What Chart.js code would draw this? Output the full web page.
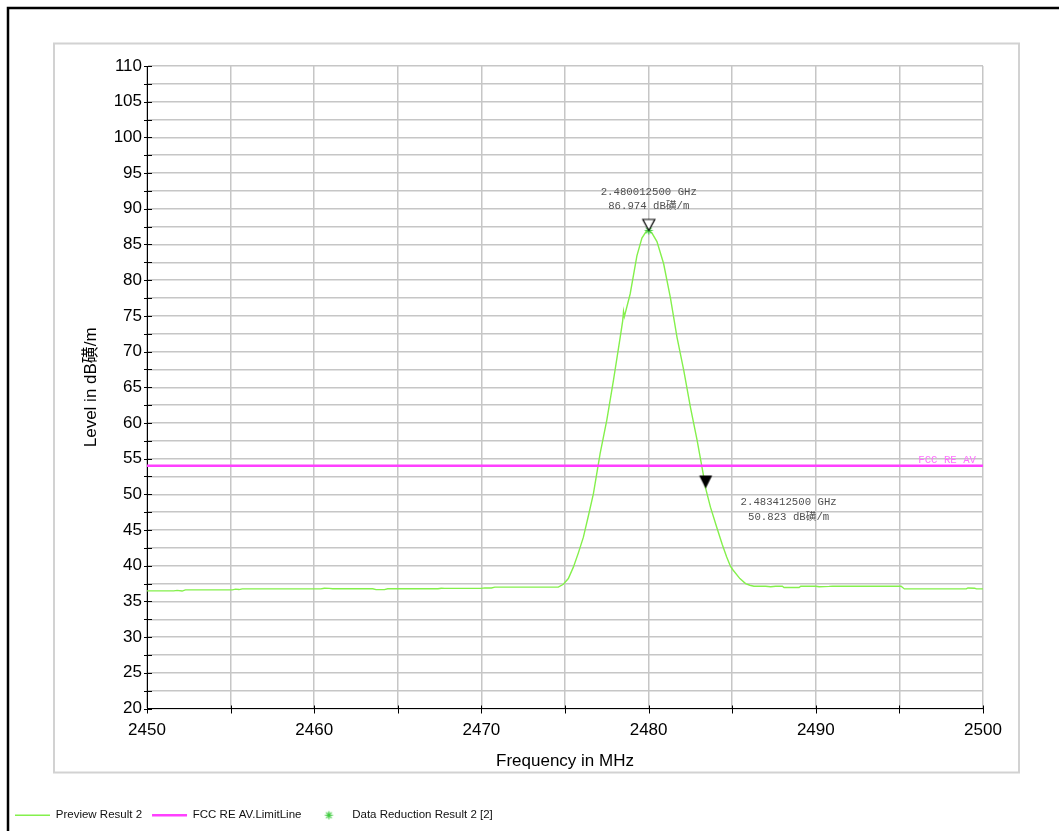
<!DOCTYPE html>
<html><head><meta charset="utf-8">
<script src="https://cdn.jsdelivr.net/npm/chart.js@4.4.1/dist/chart.umd.min.js"></script>
<style>html,body{margin:0;padding:0;background:#fff;} canvas{display:block;}</style>
</head><body>
<canvas id="c" width="1059" height="831" style="width:1059px;height:831px"></canvas>
<script>
// ---- data ----
const freqMHz = [2450.0,2451.6,2451.8,2452.1,2452.3,2455.1,2455.3,2455.5,2455.7,2460.4,2460.6,2460.9,2461.1,2463.5,2463.7,2464.2,2464.4,2467.4,2467.6,2467.8,2470.0,2470.2,2470.6,2470.8,2474.6,
  2474.9,2475.2,2475.5,2475.8,2476.1,2476.4,2476.7,2477.1,2477.5,2477.9,2478.3,2478.45,2478.5,2478.55,2478.9,2479.3,2479.6,2479.85,2480.0125,2480.2,2480.5,2480.9,2481.3,2481.7,2482.1,2482.5,2482.9,2483.3,2483.4125,2483.7,2484.07,2484.4,2484.67,2484.9,2485.06,2485.46,2485.8,2486.06,2486.3,
  2487.0,2487.3,2487.6,2488.0,2488.1,2489.0,2489.1,2490.0,2490.2,2490.8,2491.0,2495.1,2495.3,2499.0,2499.1,2499.5,2499.6,2500.0];
const levelDb = [36.47,36.47,36.55,36.45,36.61,36.61,36.72,36.66,36.75,36.75,36.85,36.83,36.77,36.77,36.65,36.65,36.77,36.77,36.85,36.82,36.82,36.90,36.88,37.0,37.0,
  37.4,38.2,39.8,41.8,44.0,47.0,50.1,55.7,60.4,66.0,72.0,74.3,75.6,74.9,78.1,83.4,85.9,86.8,86.974,86.6,85.4,82.3,77.6,72.0,67.4,62.2,57.6,52.4,50.823,48.2,45.43,43.0,41.23,39.9,39.37,38.2,37.5,37.27,37.13,
  37.13,37.05,37.13,37.13,36.95,36.95,37.13,37.13,37.05,37.1,37.13,37.13,36.75,36.75,36.88,36.85,36.75,36.75];
const limitFreqMHz = [2450, 2500];
const limitLevelDb = [54, 54];
const reductionFreqMHz = [2480.0125];
const reductionLevelDb = [86.974];
const markerFreqMHz = [2480.0125, 2483.4125];
const markerLevelDb = [86.974, 50.823];
const seriesNames = ['Preview Result 2', 'FCC RE AV.LimitLine', 'Data Reduction Result 2 [2]'];
const limitLabel = 'FCC RE AV';
const xTitle = 'Frequency in MHz';
const yTitle = 'Level in dB磺/m';
const levelUnit = 'dB磺/m';
const xRange = [2450, 2500], xStep = 5, xLabelEvery = 10;
const yRange = [20, 110], yStep = 2.5, yLabelEvery = 5;

// ---- styling ----
const SANS = '"Liberation Sans", Arial, sans-serif';
const MONO = '"Liberation Mono", "Noto Sans CJK SC", monospace';
const pts = (xs, ys) => xs.map((x, i) => ({x, y: ys[i]}));

function triangle(filled) {
  const c = document.createElement('canvas');
  c.width = 28; c.height = 28;
  const g = c.getContext('2d');
  g.beginPath();
  if (filled) { g.moveTo(7.5, 1); g.lineTo(20.5, 1); g.lineTo(14, 14); }
  else { g.moveTo(8, 3); g.lineTo(20, 3); g.lineTo(14, 14); }
  g.closePath();
  if (filled) { g.fillStyle = '#000'; g.fill(); }
  else { g.fillStyle = '#fff'; g.fill(); g.strokeStyle = '#000'; g.lineWidth = 1.2; g.stroke(); }
  return c;
}
function starIcon(color) {
  const c = document.createElement('canvas');
  c.width = 11; c.height = 11;
  const g = c.getContext('2d');
  g.strokeStyle = color; g.lineWidth = 1.2;
  g.beginPath();
  g.moveTo(5.5, 1.5); g.lineTo(5.5, 9.5);
  g.moveTo(1.5, 5.5); g.lineTo(9.5, 5.5);
  g.moveTo(2.7, 2.7); g.lineTo(8.3, 8.3);
  g.moveTo(8.3, 2.7); g.lineTo(2.7, 8.3);
  g.stroke();
  return c;
}

const framePlugin = {
  id: 'frame',
  beforeDraw(chart) {
    const g = chart.ctx;
    g.save();
    g.fillStyle = '#fff';
    g.fillRect(0, 0, chart.width, chart.height);
    g.strokeStyle = '#d2d2d2'; g.lineWidth = 2;
    g.strokeRect(54, 43.5, 965, 729);
    g.strokeStyle = '#000'; g.lineWidth = 2.5;
    g.beginPath(); g.moveTo(8, chart.height); g.lineTo(8, 8); g.lineTo(chart.width, 8); g.stroke();
    g.restore();
  }
};

const tickPlugin = {
  id: 'tickMarks',
  afterDatasetsDraw(chart) {
    const g = chart.ctx, a = chart.chartArea, xs = chart.scales.x, ys = chart.scales.y;
    g.save();
    g.strokeStyle = '#000'; g.lineWidth = 1;
    g.beginPath();
    ys.ticks.forEach(t => { const y = Math.round(ys.getPixelForValue(t.value)) + 0.5; g.moveTo(a.left - 3, y); g.lineTo(a.left + 5, y); });
    xs.ticks.forEach(t => { const x = Math.round(xs.getPixelForValue(t.value)) + 0.5; g.moveTo(x, a.bottom - 3); g.lineTo(x, a.bottom + 5); });
    g.stroke();
    g.restore();
  }
};

const annotPlugin = {
  id: 'annot',
  afterDatasetsDraw(chart) {
    const g = chart.ctx, a = chart.chartArea, xs = chart.scales.x, ys = chart.scales.y;
    g.save();
    g.font = '10.7px ' + MONO;
    g.fillStyle = '#505050';
    g.textBaseline = 'middle';
    g.textAlign = 'center';
    const offs = [{dx: 0, dy1: -38, dy2: -24}, {dx: 83, dy1: 13.5, dy2: 29}];
    markerFreqMHz.forEach((f, i) => {
      const px = xs.getPixelForValue(f), py = ys.getPixelForValue(markerLevelDb[i]);
      g.fillText((f / 1000).toFixed(9) + ' GHz', px + offs[i].dx, py + offs[i].dy1);
      g.fillText(markerLevelDb[i].toFixed(3) + ' ' + levelUnit, px + offs[i].dx, py + offs[i].dy2);
    });
    g.fillStyle = '#ff70ff';
    g.textAlign = 'right';
    g.fillText(limitLabel, a.right - 7, ys.getPixelForValue(limitLevelDb[1]) - 6);
    g.restore();
  }
};

new Chart(document.getElementById('c'), {
  type: 'line',
  data: {
    datasets: [
      { label: seriesNames[0], data: pts(freqMHz, levelDb), borderColor: '#84f04c', backgroundColor: '#84f04c',
        borderWidth: 1.4, pointRadius: 0, pointStyle: 'line', tension: 0, order: 2 },
      { label: seriesNames[1], data: pts(limitFreqMHz, limitLevelDb), borderColor: '#ff40ff', backgroundColor: '#ff40ff',
        borderWidth: 2.5, pointRadius: 0, pointStyle: 'line', tension: 0, order: 1 },
      { label: seriesNames[2], data: pts(reductionFreqMHz, reductionLevelDb), borderColor: '#44cc44', backgroundColor: '#44cc44',
        borderWidth: 1, pointRadius: 4, pointStyle: starIcon('#44cc44'), showLine: false, order: 0 },
      { label: 'markers', data: pts(markerFreqMHz, markerLevelDb), pointStyle: [triangle(false), triangle(true)],
        pointRadius: 7, showLine: false, order: -1 }
    ]
  },
  options: {
    responsive: false,
    animation: false,
    events: [],
    layout: { padding: { left: 5, top: 66, right: 76, bottom: 0 } },
    scales: {
      x: {
        type: 'linear', min: xRange[0], max: xRange[1],
        ticks: { stepSize: xStep, autoSkip: false, maxRotation: 0, color: '#000', padding: 12,
          font: { family: SANS, size: 17 }, callback: v => (v % xLabelEvery === 0 ? String(v) : '') },
        grid: { color: '#c6c6c6', lineWidth: 1.5, drawTicks: false },
        border: { display: true, color: '#000', width: 1 },
        title: { display: true, text: xTitle, color: '#000', font: { family: SANS, size: 17 }, padding: { top: 0, bottom: 28 } },
        afterFit(s) { s.height = 91; }
      },
      y: {
        min: yRange[0], max: yRange[1],
        ticks: { stepSize: yStep, autoSkip: false, color: '#000', padding: 5,
          font: { family: SANS, size: 17 }, callback: v => (v % yLabelEvery === 0 ? String(v) : '') },
        grid: { color: '#c6c6c6', lineWidth: 1.5, drawTicks: false },
        border: { display: true, color: '#000', width: 1 },
        title: { display: true, text: yTitle, color: '#000', font: { family: SANS + ', "Noto Sans CJK SC"', size: 17 }, padding: { top: 76, bottom: 0 } },
        afterFit(s) { s.width = 142; }
      }
    },
    plugins: {
      tooltip: { enabled: false },
      legend: {
        position: 'bottom', align: 'start',
        labels: {
          usePointStyle: true, pointStyleWidth: 35, boxHeight: 6, padding: 10, color: '#111',
          font: { family: SANS, size: 11.5 },
          filter: item => item.datasetIndex < 3,
          sort: (a, b) => a.datasetIndex - b.datasetIndex
        }
      }
    }
  },
  plugins: [framePlugin, tickPlugin, annotPlugin]
});
</script>
</body></html>
